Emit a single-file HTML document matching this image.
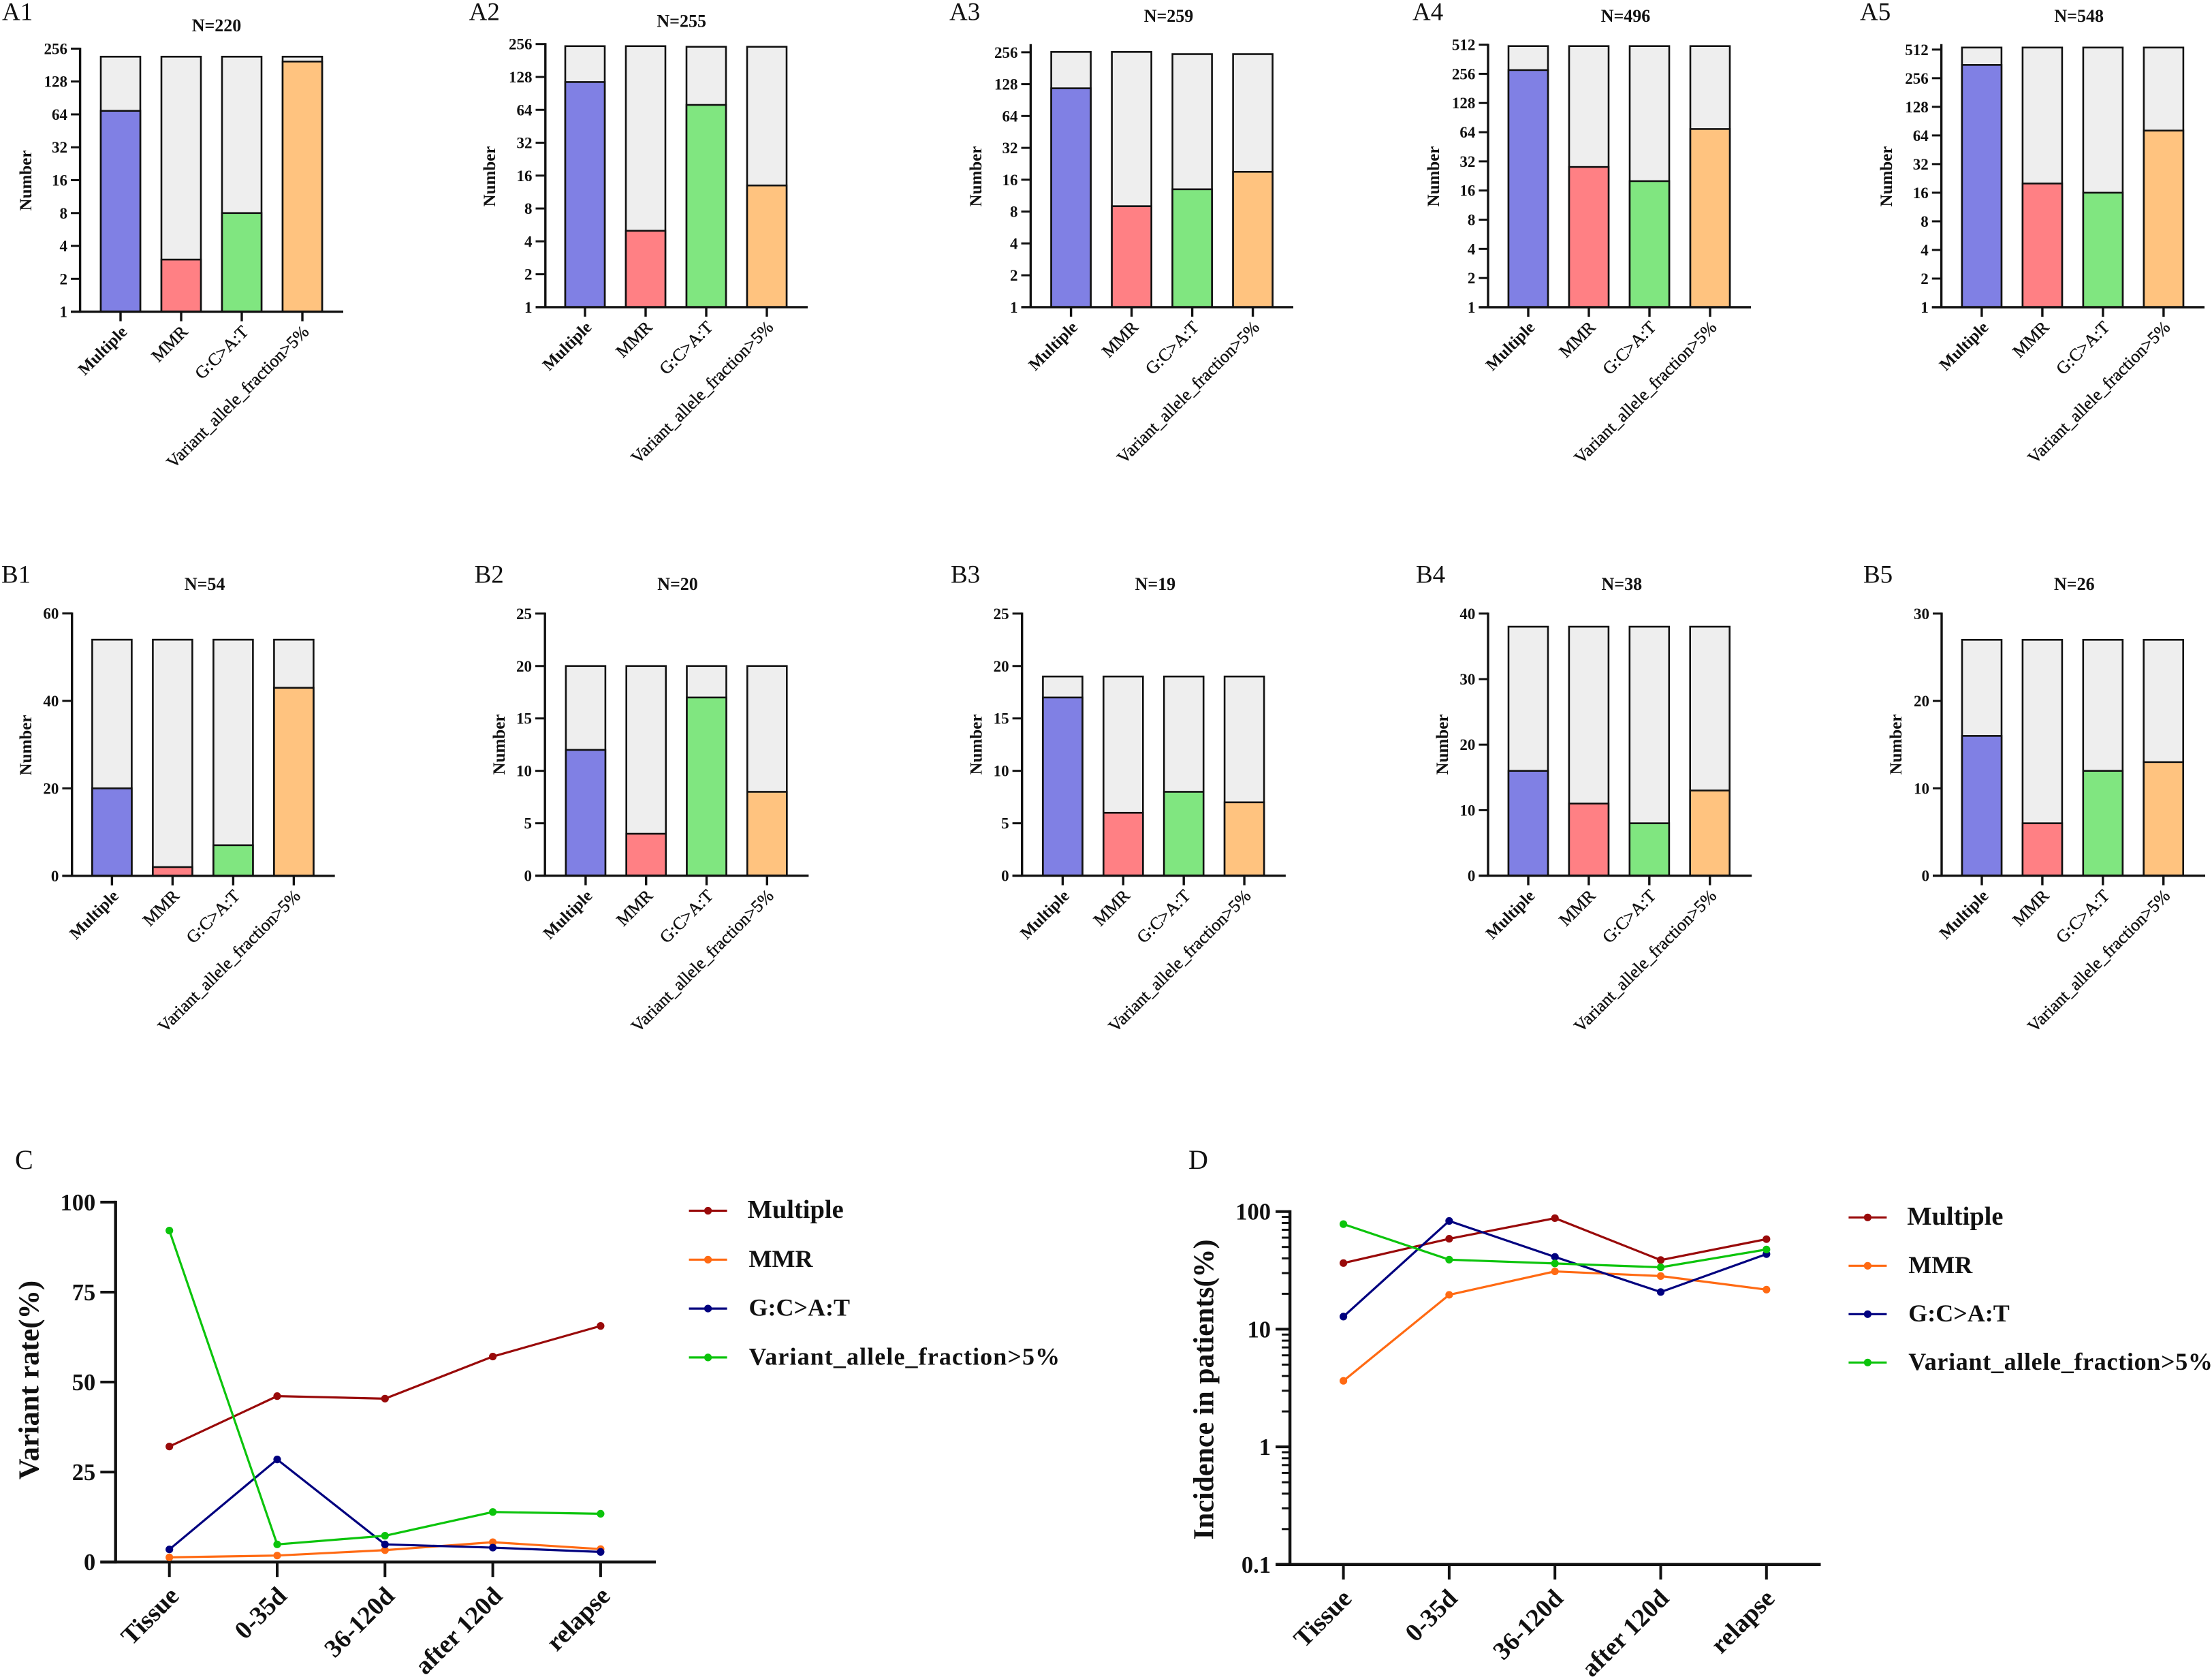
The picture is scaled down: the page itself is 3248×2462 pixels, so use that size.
<!DOCTYPE html>
<html lang="en">
<head>
<meta charset="utf-8">
<title>Variant counts and rates by category</title>
<style>
  html, body { margin: 0; padding: 0; background: #ffffff; }
  #figure { display: block; width: 3248px; height: 2462px; font-family: "Liberation Serif", serif; }
  text { fill: #111111; }
</style>
</head>
<body>
<svg id="figure" xmlns="http://www.w3.org/2000/svg" width="3248" height="2462" viewBox="0 0 3248 2462"></svg>
<script>
// ---------- Shared categories ----------
const categories = ['Multiple', 'MMR', 'G:C>A:T', 'Variant_allele_fraction>5%'];
const timepoints = ['Tissue', '0-35d', '36-120d', 'after 120d', 'relapse'];
const seriesNames = ['Multiple', 'MMR', 'G:C>A:T', 'Variant_allele_fraction>5%'];

// ---------- Tick labels ----------
const log2Ticks256 = [1, 2, 4, 8, 16, 32, 64, 128, 256];
const log2Ticks512 = [1, 2, 4, 8, 16, 32, 64, 128, 256, 512];
const b1Ticks = [0, 20, 40, 60];
const b2Ticks = [0, 5, 10, 15, 20, 25];
const b3Ticks = [0, 5, 10, 15, 20, 25];
const b4Ticks = [0, 10, 20, 30, 40];
const b5Ticks = [0, 10, 20, 30];
const cTicks = [0, 25, 50, 75, 100];
const dTicks = [0.1, 1, 10, 100];
const dMinorMultipliers = [2, 3, 4, 5, 6, 7, 8, 9];

// ---------- Panel A (log2 stacked bars) ----------
const a1Values = [69, 3, 8, 195];
const a1Totals = [216, 216, 216, 216];
const a2Values = [115, 5, 71, 13];
const a2Totals = [245, 245, 242, 242];
const a3Values = [117, 9, 13, 19];
const a3Totals = [258, 258, 246, 246];
const a4Values = [280, 28, 20, 69];
const a4Totals = [495, 495, 495, 495];
const a5Values = [353, 20, 16, 72];
const a5Totals = [538, 538, 538, 538];

// ---------- Panel B (linear stacked bars) ----------
const b1Values = [20, 2, 7, 43];
const b1Totals = [54, 54, 54, 54];
const b2Values = [12, 4, 17, 8];
const b2Totals = [20, 20, 20, 20];
const b3Values = [17, 6, 8, 7];
const b3Totals = [19, 19, 19, 19];
const b4Values = [16, 11, 8, 13];
const b4Totals = [38, 38, 38, 38];
const b5Values = [16, 6, 12, 13];
const b5Totals = [27, 27, 27, 27];

// ---------- Panel C (variant rate %) ----------
const cMultiple = [32.1, 46.1, 45.4, 57.1, 65.6];
const cMMR = [1.3, 1.8, 3.3, 5.5, 3.6];
const cGCAT = [3.5, 28.5, 4.9, 4.0, 2.8];
const cVAF = [92.1, 4.9, 7.3, 13.9, 13.4];

// ---------- Panel D (incidence %) ----------
const dMultiple = [36.5, 58.7, 87.9, 38.7, 58.3];
const dMMR = [3.64, 19.6, 31, 28.3, 21.7];
const dGCAT = [12.8, 83.2, 41.2, 20.7, 43.5];
const dVAF = [78.2, 39, 36.2, 33.6, 47.6];

// ---------- Styling ----------
const barColors = ['#8080e4', '#ff8084', '#80e680', '#ffc37f'];
const restColor = '#eeeeee';
const lineColors = ['#990a0a', '#ff6a13', '#00007f', '#0cc40c'];

const NS = 'http://www.w3.org/2000/svg';
const figure = document.getElementById('figure');

function make(tag, attrs, parent) {
  const node = document.createElementNS(NS, tag);
  for (const key in attrs) node.setAttribute(key, attrs[key]);
  parent.appendChild(node);
  return node;
}

function logScale(d0, d1, r0, r1) {
  return function (v) {
    return r0 + (Math.log(v) - Math.log(d0)) / (Math.log(d1) - Math.log(d0)) * (r1 - r0);
  };
}

function linearScale(d0, d1, r0, r1) {
  return function (v) {
    return r0 + (v - d0) / (d1 - d0) * (r1 - r0);
  };
}

function drawBarPanel(p) {
  const g = make('g', {}, figure);
  
  

  const first = p.ticks[0];
  const last = p.ticks[p.ticks.length - 1];
  const y = (p.log ? logScale : linearScale)(first, last, p.bottom, p.tickTop);
  const x = function (i) { return p.firstCenter + i * p.step; };
  const barWidth = 58;
  const base = p.bottom;

  const panelLabel = make('text', { x: p.labelX, y: p.labelY, 'font-size': 37 }, g);
  panelLabel.textContent = p.id;
  
  

  const title = make('text', { x: p.titleX, y: p.titleY, 'font-size': 26, 'font-weight': 'bold', 'text-anchor': 'middle' }, g);
  title.textContent = p.title;
  
  

  const yTitle = make('text', { 'font-size': 25, 'font-weight': 'bold', 'text-anchor': 'middle', transform: 'translate(' + (p.yTitleX + 7) + ',' + p.yTitleY + ') rotate(-90)' }, g);
  yTitle.textContent = 'Number';
  
  

  categories.forEach(function (cat, i) {
    const rest = make('rect', { x: x(i) - barWidth / 2, y: y(p.totals[i]), width: barWidth, height: base - y(p.totals[i]), fill: restColor, stroke: '#111', 'stroke-width': 2.6 }, g);
    
    

    const bar = make('rect', { x: x(i) - barWidth / 2, y: y(p.values[i]), width: barWidth, height: base - y(p.values[i]), fill: barColors[i], stroke: '#111', 'stroke-width': 2.6 }, g);
    
    

    const tick = make('line', { x1: x(i), x2: x(i), y1: base, y2: base + 14, stroke: '#111', 'stroke-width': 3.4 }, g);
    
    

    const ax = x(i) + 11;
    const ay = base + 31;
    const label = make('text', { 'font-size': i === 0 ? 24.5 : 25.6, 'font-weight': i === 0 ? 'bold' : 'normal', stroke: i === 0 ? 'none' : '#111', 'stroke-width': 0.45, 'text-anchor': 'end', transform: 'translate(' + ax + ',' + ay + ') rotate(-45)' }, g);
    label.textContent = cat;
    
    
  });

  const axisY = make('line', { x1: p.axisX, x2: p.axisX, y1: p.axisTop, y2: base + 1.5, stroke: '#111', 'stroke-width': 3.4 }, g);
  
  

  const axisX = make('line', { x1: p.tickLeft, x2: p.axisEnd, y1: base, y2: base, stroke: '#111', 'stroke-width': 3.4 }, g);
  
  

  p.ticks.forEach(function (t) {
    const tick = make('line', { x1: p.tickLeft, x2: p.axisX, y1: y(t), y2: y(t), stroke: '#111', 'stroke-width': 3 }, g);
    
    

    const label = make('text', { x: p.tickLeft - 5, y: y(t) + 8, 'font-size': 23, 'font-weight': 'bold', 'text-anchor': 'end' }, g);
    label.textContent = String(t);
    
    
  });
}

function drawLinePanel(p) {
  const g = make('g', {}, figure);
  
  

  const first = p.ticks[0];
  const last = p.ticks[p.ticks.length - 1];
  const y = (p.log ? logScale : linearScale)(first, last, p.bottom, p.tickTop);
  const x = function (i) { return p.firstX + i * p.stepX; };

  const panelLabel = make('text', { x: p.labelX, y: p.labelY, 'font-size': 40 }, g);
  panelLabel.textContent = p.id;
  
  

  const yTitle = make('text', { 'font-size': p.yTitleSize, 'font-weight': 'bold', 'text-anchor': 'middle', transform: 'translate(' + (p.yTitleX + 12) + ',' + p.yTitleY + ') rotate(-90)' }, g);
  yTitle.textContent = p.yTitle;
  
  

  const axisY = make('line', { x1: p.axisX, x2: p.axisX, y1: p.tickTop - 2, y2: p.bottom + 2, stroke: '#111', 'stroke-width': 4.4 }, g);
  
  

  const axisX = make('line', { x1: p.tickLeft, x2: p.axisEnd, y1: p.bottom, y2: p.bottom, stroke: '#111', 'stroke-width': 4.4 }, g);
  
  

  p.ticks.forEach(function (t) {
    const tick = make('line', { x1: p.tickLeft, x2: p.axisX, y1: y(t), y2: y(t), stroke: '#111', 'stroke-width': 4 }, g);
    
    

    const label = make('text', { x: p.tickLeft - 7, y: y(t) + 12, 'font-size': 34.5, 'font-weight': 'bold', 'text-anchor': 'end' }, g);
    label.textContent = String(t);
    
    
  });

  if (p.log) {
    p.ticks.slice(0, -1).forEach(function (decade) {
      dMinorMultipliers.forEach(function (m) {
        const minor = make('line', { x1: p.axisX - 12, x2: p.axisX, y1: y(decade * m), y2: y(decade * m), stroke: '#111', 'stroke-width': 3 }, g);
        
        
      });
    });
  }

  timepoints.forEach(function (tp, i) {
    const tick = make('line', { x1: x(i), x2: x(i), y1: p.bottom, y2: p.bottom + 22, stroke: '#111', 'stroke-width': 4 }, g);
    
    

    const label = make('text', { 'font-size': 37.5, 'font-weight': 'bold', 'text-anchor': 'end', transform: 'translate(' + (x(i) + p.labelDx) + ',' + (p.bottom + p.labelDy) + ') rotate(-45)' }, g);
    label.textContent = tp;
    
    
  });

  p.series.forEach(function (values, s) {
    const points = values.map(function (v, i) { return x(i) + ',' + y(v); }).join(' ');
    const line = make('polyline', { points: points, fill: 'none', stroke: lineColors[s], 'stroke-width': 3.2 }, g);
    
    

    values.forEach(function (v, i) {
      const dot = make('circle', { cx: x(i), cy: y(v), r: 5.6, fill: lineColors[s] }, g);
      
      
    });
  });

  seriesNames.forEach(function (name, s) {
    const ly = p.legendFirstY + s * p.legendStep;
    const entry = make('g', {}, g);
    
    

    const swatch = make('line', { x1: p.legendLineX, x2: p.legendLineX + 56, y1: ly, y2: ly, stroke: lineColors[s], 'stroke-width': 3.2 }, entry);
    
    

    const marker = make('circle', { cx: p.legendLineX + 28, cy: ly, r: 5.6, fill: lineColors[s] }, entry);
    
    

    const label = make('text', { x: p.legendTextX - (s === 0 ? 2 : 0), y: ly + 10.5, 'font-size': s === 0 ? 38.5 : 36, 'font-weight': 'bold', 'letter-spacing': s === 3 ? p.vafSpacing : 0 }, entry);
    label.textContent = name;
    
    
  });
}

// ---------- Top row ----------
drawBarPanel({ id: 'A1', title: 'N=220', log: true, ticks: log2Ticks256, values: a1Values, totals: a1Totals,
  axisX: 117.6, axisEnd: 504, tickLeft: 104, tickTop: 71.4, axisTop: 70, bottom: 457.6, firstCenter: 177, step: 89,
  labelX: 3, labelY: 29.5, titleX: 318, titleY: 46, yTitleX: 39, yTitleY: 265 });
drawBarPanel({ id: 'A2', title: 'N=255', log: true, ticks: log2Ticks256, values: a2Values, totals: a2Totals,
  axisX: 800.8, axisEnd: 1186, tickLeft: 786.5, tickTop: 64.7, axisTop: 63.3, bottom: 450.9, firstCenter: 859, step: 89,
  labelX: 688.6, labelY: 29.5, titleX: 1000.7, titleY: 39.3, yTitleX: 720, yTitleY: 259 });
drawBarPanel({ id: 'A3', title: 'N=259', log: true, ticks: log2Ticks256, values: a3Values, totals: a3Totals,
  axisX: 1513.4, axisEnd: 1899, tickLeft: 1499.5, tickTop: 76.8, axisTop: 64.7, bottom: 450.9, firstCenter: 1572.6, step: 89,
  labelX: 1394, labelY: 29.5, titleX: 1716, titleY: 32, yTitleX: 1434, yTitleY: 259 });
drawBarPanel({ id: 'A4', title: 'N=496', log: true, ticks: log2Ticks512, values: a4Values, totals: a4Totals,
  axisX: 2185, axisEnd: 2571, tickLeft: 2171.4, tickTop: 65.6, axisTop: 64.2, bottom: 451, firstCenter: 2244, step: 89,
  labelX: 2074, labelY: 29.5, titleX: 2387, titleY: 32, yTitleX: 2106, yTitleY: 259 });
drawBarPanel({ id: 'A5', title: 'N=548', log: true, ticks: log2Ticks512, values: a5Values, totals: a5Totals,
  axisX: 2850.6, axisEnd: 3237, tickLeft: 2836.8, tickTop: 72.8, axisTop: 64.7, bottom: 451, firstCenter: 2909.9, step: 89,
  labelX: 2731, labelY: 29.5, titleX: 3052.7, titleY: 32, yTitleX: 2771, yTitleY: 259 });

// ---------- Middle row ----------
drawBarPanel({ id: 'B1', title: 'N=54', log: false, ticks: b1Ticks, values: b1Values, totals: b1Totals,
  axisX: 105.7, axisEnd: 491.7, tickLeft: 91.4, tickTop: 900.6, axisTop: 899.2, bottom: 1285.8, firstCenter: 164.4, step: 89,
  labelX: 2, labelY: 855.4, titleX: 300.7, titleY: 866, yTitleX: 38.8, yTitleY: 1094 });
drawBarPanel({ id: 'B2', title: 'N=20', log: false, ticks: b2Ticks, values: b2Values, totals: b2Totals,
  axisX: 800.2, axisEnd: 1187.4, tickLeft: 786, tickTop: 900.8, axisTop: 899.4, bottom: 1285.6, firstCenter: 859.9, step: 88.8,
  labelX: 696.6, labelY: 855.4, titleX: 995, titleY: 866, yTitleX: 733.9, yTitleY: 1093 });
drawBarPanel({ id: 'B3', title: 'N=19', log: false, ticks: b3Ticks, values: b3Values, totals: b3Totals,
  axisX: 1500.7, axisEnd: 1887.9, tickLeft: 1486.6, tickTop: 900.8, axisTop: 899.4, bottom: 1285.6, firstCenter: 1560.4, step: 88.9,
  labelX: 1396, labelY: 855.4, titleX: 1696.4, titleY: 866, yTitleX: 1434.4, yTitleY: 1093 });
drawBarPanel({ id: 'B4', title: 'N=38', log: false, ticks: b4Ticks, values: b4Values, totals: b4Totals,
  axisX: 2185, axisEnd: 2572.2, tickLeft: 2171.4, tickTop: 900.8, axisTop: 899.4, bottom: 1285.6, firstCenter: 2244, step: 88.9,
  labelX: 2079, labelY: 855.4, titleX: 2381.3, titleY: 866, yTitleX: 2119, yTitleY: 1093 });
drawBarPanel({ id: 'B5', title: 'N=26', log: false, ticks: b5Ticks, values: b5Values, totals: b5Totals,
  axisX: 2851, axisEnd: 3238, tickLeft: 2838, tickTop: 900.8, axisTop: 899.4, bottom: 1285.6, firstCenter: 2910, step: 88.9,
  labelX: 2736, labelY: 855.4, titleX: 3045.8, titleY: 866, yTitleX: 2785, yTitleY: 1093 });

// ---------- Bottom row ----------
drawLinePanel({ id: 'C', log: false, ticks: cTicks, series: [cMultiple, cMMR, cGCAT, cVAF], yTitle: 'Variant rate(%)', yTitleSize: 42.5,
  axisX: 169.7, axisEnd: 963, tickLeft: 147.3, tickTop: 1764.9, bottom: 2293.2, firstX: 248.7, stepX: 158.3,
  labelX: 22, labelY: 1716, yTitleX: 44.6, yTitleY: 2026, labelDx: 16, labelDy: 52,
  legendFirstY: 1777.5, legendStep: 71.8, legendLineX: 1011.6, legendTextX: 1099.5, vafSpacing: 1.1 });
drawLinePanel({ id: 'D', log: true, ticks: dTicks, series: [dMultiple, dMMR, dGCAT, dVAF], yTitle: 'Incidence in patients(%)', yTitleSize: 42,
  axisX: 1894.1, axisEnd: 2673.5, tickLeft: 1873, tickTop: 1778.7, bottom: 2296.8, firstX: 1972.6, stepX: 155.3,
  labelX: 1745, labelY: 1716, yTitleX: 1769.7, yTitleY: 2040, labelDx: 14, labelDy: 52,
  legendFirstY: 1787.3, legendStep: 71, legendLineX: 2714.4, legendTextX: 2802.3, vafSpacing: 0.7 });
</script>
</body>
</html>
